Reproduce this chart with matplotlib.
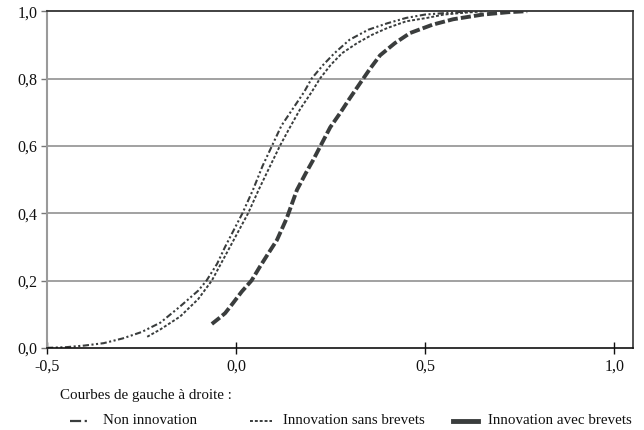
import matplotlib
matplotlib.use("Agg")
import matplotlib.pyplot as plt
from matplotlib.lines import Line2D

plt.rcParams['font.family'] = ['Liberation Serif', 'DejaVu Serif']

# Fonctions de répartition empiriques (lecture approximative)
x_non = [-0.50, -0.45, -0.40, -0.35, -0.30, -0.25, -0.20, -0.148, -0.10, -0.078,
         -0.05, -0.029, 0.017, 0.045, 0.07, 0.095, 0.12, 0.15, 0.18, 0.20,
         0.23, 0.26, 0.30, 0.35, 0.40, 0.45, 0.50, 0.56, 0.62]
y_non = [0.0, 0.002, 0.007, 0.014, 0.028, 0.047, 0.075, 0.123, 0.17, 0.20,
         0.25, 0.30, 0.40, 0.47, 0.54, 0.60, 0.66, 0.71, 0.76, 0.80,
         0.84, 0.875, 0.915, 0.945, 0.964, 0.98, 0.99, 0.995, 1.0]

x_sans = [-0.235, -0.20, -0.148, -0.10, -0.064, -0.04, -0.016, 0.008, 0.032,
          0.06, 0.09, 0.116, 0.14, 0.17, 0.20, 0.222, 0.25, 0.28,
          0.32, 0.36, 0.40, 0.45, 0.505, 0.55, 0.60, 0.66]
y_sans = [0.033, 0.055, 0.093, 0.145, 0.20, 0.25, 0.30, 0.35, 0.40,
          0.47, 0.54, 0.60, 0.65, 0.71, 0.76, 0.80, 0.84, 0.875,
          0.905, 0.93, 0.95, 0.97, 0.98, 0.99, 0.995, 1.0]

x_avec = [-0.064, -0.045, -0.029, -0.008, 0.015, 0.041, 0.063, 0.085, 0.108, 0.134,
          0.161, 0.185, 0.204, 0.222, 0.249, 0.275, 0.30, 0.328, 0.355, 0.381,
          0.42, 0.46, 0.52, 0.574, 0.653, 0.72, 0.77]
y_avec = [0.071, 0.088, 0.103, 0.133, 0.167, 0.20, 0.241, 0.28, 0.32, 0.385,
          0.469, 0.52, 0.558, 0.597, 0.655, 0.697, 0.74, 0.786, 0.83, 0.869,
          0.905, 0.935, 0.96, 0.976, 0.99, 0.997, 1.0]

xticks = [-0.5, 0.0, 0.5, 1.0]
yticks = [0.0, 0.2, 0.4, 0.6, 0.8, 1.0]
labels = ["Non innovation", "Innovation sans brevets", "Innovation avec brevets"]

c = '#3a3d3d'
st_non = dict(color=c, lw=1.5, dashes=(3, 1.2, 1, 1.2, 1, 1.2))
st_sans = dict(color=c, lw=1.4, dashes=(1.5, 1))
st_avec = dict(color=c, lw=2.8, dashes=(2.6, 0.8))

fig = plt.figure(figsize=(6.44, 4.30), dpi=100)
ax = fig.add_axes([0.073, 0.191, 0.910, 0.783])

ax.plot(x_non, y_non, **st_non)
ax.plot(x_sans, y_sans, **st_sans)
ax.plot(x_avec, y_avec, **st_avec)

ax.set_xlim(-0.5, 1.05)
ax.set_ylim(0, 1.0)
ax.set_xticks(xticks)
ax.set_xticklabels([f"{v:.1f}".replace('.', ',') for v in xticks])
ax.set_yticks(yticks)
ax.set_yticklabels([f"{v:.1f}".replace('.', ',') for v in yticks])

for v in yticks[1:-1]:
    ax.axhline(v, color='#9a9a9a', lw=1.3, zorder=0)

ax.spines['left'].set_color('#9a9a9a')
ax.spines['left'].set_linewidth(1.5)
ax.spines['bottom'].set_color('#111111')
ax.spines['bottom'].set_linewidth(1.2)
ax.spines['top'].set_color('#333333')
ax.spines['top'].set_linewidth(1.3)
ax.spines['right'].set_color('#444444')
ax.spines['right'].set_linewidth(1.3)

ax.tick_params(axis='x', direction='inout', length=9, width=1, colors='#111111',
               labelsize=11.5, pad=3)
ax.tick_params(axis='y', direction='out', length=4, width=1, colors='#777777',
               labelcolor='#111111', labelsize=11.5, pad=3)

# légende dessinée sous le graphique
W, H = 644.0, 430.0
fig.text(60 / W, 1 - 395 / H, "Courbes de gauche à droite :", fontsize=10.8,
         color='#111111', va='center')
row_y = 1 - 421 / H
handle_x = [(70, 88), (250, 272), (453, 478)]
text_x = [103, 283, 488]
styles = [dict(color=c, lw=1.6, dashes=(5, 1.6, 1, 1.6, 1, 1.6)), st_sans,
          dict(color=c, lw=3.5)]
for (a, b), tx, st, lab in zip(handle_x, text_x, styles, labels):
    fig.add_artist(Line2D([a / W, b / W], [row_y, row_y], transform=fig.transFigure, **st))
    fig.text(tx / W, row_y, lab, fontsize=10.8, color='#111111', va='center')

fig.savefig("out.png", dpi=100)
